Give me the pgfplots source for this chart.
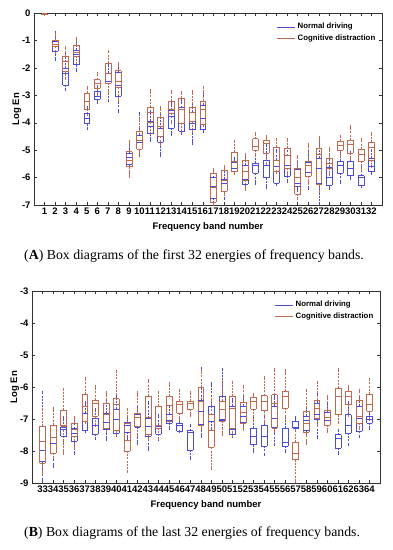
\documentclass[border=0pt]{standalone}
\usepackage{fontspec}
\setmainfont{Liberation Sans}
\newfontfamily\capfont{Liberation Serif}
\usepackage{pgfplots}
\usepackage{pgfplotstable}
\pgfplotsset{compat=1.18}
\definecolor{bluec}{RGB}{75,75,220}
\definecolor{redc}{RGB}{195,105,80}
\definecolor{axc}{RGB}{50,50,50}

\pgfplotstableread{
k lw q1 med q3 uw
1 -0.05 -0.04 -0.03 -0.02 -0.01
2 -1.70 -1.38 -1.15 -1.02 -0.72
3 -2.80 -2.62 -2.20 -2.02 -1.50
4 -2.08 -1.88 -1.50 -1.35 -1.10
5 -4.20 -4.03 -3.83 -3.67 -3.45
6 -3.27 -3.15 -3.03 -2.85 -2.70
7 -3.20 -2.55 -2.50 -2.20 -1.85
8 -3.60 -3.02 -2.62 -2.15 -1.95
9 -5.85 -5.50 -5.25 -5.10 -4.70
10 -5.20 -4.95 -4.70 -4.45 -3.67
11 -4.66 -4.40 -4.14 -3.95 -3.60
12 -5.20 -4.72 -4.50 -4.20 -3.70
13 -4.44 -4.20 -3.77 -3.55 -3.30
14 -4.38 -4.30 -4.00 -3.45 -3.20
15 -4.74 -4.25 -4.01 -3.60 -3.30
16 -4.32 -4.22 -3.85 -3.35 -2.95
17 -7.00 -6.75 -6.30 -6.00 -5.80
18 -6.76 -6.50 -6.20 -6.05 -5.75
19 -5.84 -5.78 -5.65 -5.45 -5.30
20 -6.40 -6.25 -6.05 -5.55 -5.30
21 -6.20 -5.85 -5.55 -5.48 -5.15
22 -6.37 -6.00 -5.55 -5.35 -4.80
23 -6.25 -6.20 -5.60 -5.35 -5.00
24 -6.15 -5.95 -5.55 -5.20 -4.90
25 -6.45 -6.30 -6.20 -5.70 -5.40
26 -6.39 -5.95 -5.80 -5.45 -5.10
27 -6.94 -6.20 -5.65 -5.30 -4.70
28 -6.39 -6.27 -6.00 -5.63 -5.20
29 -6.17 -5.84 -5.55 -5.41 -5.05
30 -6.02 -5.93 -5.65 -5.41 -5.10
31 -6.33 -6.29 -6.00 -5.93 -5.55
32 -5.84 -5.78 -5.60 -5.30 -5.00
}\blueA

\pgfplotstableread{
k lw q1 med q3 uw
1 -0.05 -0.04 -0.03 -0.02 -0.01
2 -1.45 -1.22 -1.12 -0.98 -0.80
3 -2.40 -2.12 -1.76 -1.58 -1.25
4 -1.85 -1.57 -1.42 -1.17 -0.93
5 -3.70 -3.49 -3.22 -2.91 -2.73
6 -2.95 -2.73 -2.55 -2.43 -2.22
7 -2.90 -2.55 -2.20 -1.82 -1.40
8 -3.20 -2.71 -2.50 -2.10 -1.85
9 -5.95 -5.60 -5.35 -5.05 -4.70
10 -5.10 -4.96 -4.62 -4.32 -3.90
11 -4.40 -3.99 -3.60 -3.43 -2.83
12 -4.80 -4.50 -4.13 -3.80 -3.46
13 -4.00 -3.65 -3.50 -3.20 -2.85
14 -4.30 -4.00 -3.52 -3.10 -2.89
15 -4.30 -3.95 -3.60 -3.44 -2.85
16 -4.10 -4.05 -3.52 -3.22 -2.73
17 -7.00 -6.90 -6.35 -5.85 -5.70
18 -6.60 -6.50 -6.10 -5.72 -5.60
19 -5.84 -5.78 -5.42 -5.08 -4.68
20 -6.43 -6.09 -5.75 -5.35 -5.15
21 -5.20 -4.99 -4.85 -4.58 -4.41
22 -5.50 -5.10 -4.74 -4.62 -4.52
23 -5.80 -5.78 -5.35 -4.90 -4.62
24 -5.90 -5.66 -5.20 -4.93 -4.62
25 -6.76 -6.60 -6.00 -5.66 -5.25
26 -6.20 -5.94 -5.56 -5.39 -4.78
27 -6.50 -6.24 -5.15 -4.93 -4.56
28 -5.90 -5.66 -5.48 -5.29 -4.93
29 -5.20 -4.99 -4.83 -4.68 -4.50
30 -5.30 -5.11 -4.80 -4.62 -4.15
31 -5.70 -5.39 -5.15 -4.95 -4.60
32 -5.60 -5.35 -4.90 -4.71 -4.40
}\redA

\pgfplotstableread{
k lw q1 med q3 uw
33 -8.93 -8.33 -7.98 -7.23 -6.17
34 -8.48 -8.06 -7.75 -7.18 -6.66
35 -7.75 -7.54 -7.33 -7.25 -6.95
36 -8.06 -7.70 -7.45 -7.30 -7.00
37 -7.38 -7.36 -7.07 -6.81 -6.50
38 -7.60 -7.48 -7.20 -6.97 -6.70
39 -7.65 -7.33 -7.10 -6.81 -6.40
40 -7.50 -7.45 -7.00 -6.70 -6.30
41 -7.60 -7.40 -7.20 -7.10 -7.00
42 -7.75 -7.25 -7.22 -6.85 -6.60
43 -7.96 -7.54 -7.21 -6.97 -6.50
44 -7.65 -7.46 -7.22 -7.18 -6.90
45 -7.28 -7.12 -7.05 -6.84 -6.60
46 -7.39 -7.38 -7.18 -7.13 -7.00
47 -8.22 -7.96 -7.40 -7.36 -7.20
48 -7.54 -7.15 -6.76 -6.40 -5.41
49 -7.30 -7.07 -6.86 -6.60 -5.90
50 -7.30 -7.05 -7.00 -6.29 -5.46
51 -7.54 -7.49 -7.33 -6.60 -6.40
52 -7.30 -7.10 -6.90 -6.60 -6.30
53 -8.01 -7.80 -7.54 -7.28 -7.00
54 -8.11 -7.85 -7.54 -7.18 -6.90
55 -7.80 -7.25 -6.97 -6.60 -6.30
56 -8.01 -7.85 -7.72 -7.28 -7.00
57 -7.30 -7.28 -7.27 -7.07 -6.97
58 -7.50 -7.35 -7.05 -6.92 -6.70
59 -7.59 -7.00 -6.84 -6.50 -6.20
60 -7.39 -7.20 -7.05 -6.80 -6.50
61 -8.06 -7.91 -7.60 -7.49 -7.35
62 -7.80 -7.44 -7.18 -6.86 -6.50
63 -7.54 -7.39 -6.97 -6.60 -6.30
64 -7.28 -7.13 -7.00 -6.92 -6.80
}\blueB

\pgfplotstableread{
k lw q1 med q3 uw
33 -8.70 -8.38 -7.70 -7.23 -6.70
34 -8.20 -8.06 -7.57 -7.18 -6.66
35 -8.06 -7.23 -7.20 -6.71 -6.08
36 -7.90 -7.54 -7.33 -7.13 -6.95
37 -7.10 -7.07 -6.60 -6.22 -5.74
38 -7.20 -6.92 -6.50 -6.40 -6.00
39 -7.40 -7.28 -6.85 -6.50 -6.19
40 -7.49 -7.36 -6.55 -6.36 -5.51
41 -8.64 -8.00 -7.65 -7.13 -6.71
42 -7.50 -7.23 -6.95 -6.81 -6.19
43 -7.60 -7.49 -6.95 -6.29 -5.80
44 -7.60 -7.28 -7.20 -6.60 -6.16
45 -7.10 -7.07 -6.57 -6.29 -5.88
46 -7.00 -6.81 -6.55 -6.45 -6.11
47 -6.90 -6.68 -6.50 -6.45 -6.19
48 -7.30 -7.18 -6.45 -6.00 -5.50
49 -8.53 -7.89 -7.36 -6.86 -6.40
50 -7.49 -7.07 -6.68 -6.45 -5.80
51 -7.50 -7.28 -6.65 -6.29 -5.85
52 -7.33 -7.13 -6.80 -6.47 -6.00
53 -7.05 -6.68 -6.45 -6.32 -6.24
54 -7.10 -6.74 -6.45 -6.27 -5.70
55 -7.40 -7.28 -6.50 -6.24 -5.46
56 -7.00 -6.66 -6.29 -6.14 -5.50
57 -8.95 -8.27 -8.06 -7.72 -7.30
58 -7.75 -7.41 -7.12 -6.76 -6.11
59 -7.20 -6.97 -6.66 -6.40 -5.85
60 -7.39 -7.18 -6.95 -6.71 -6.29
61 -7.10 -6.86 -6.29 -6.03 -5.46
62 -6.90 -6.55 -6.30 -6.14 -6.00
63 -7.30 -7.13 -6.92 -6.40 -6.11
64 -7.00 -6.76 -6.55 -6.22 -5.77
}\redB

% box-and-whisker series: #1 table, #2 colour
\newcommand{\boxseries}[2]{%
  \addplot[draw=none, forget plot, error bars/.cd, y dir=plus, y explicit,
    error mark=-, error mark options={solid, draw=#2, line width=0.4pt, mark size=1.6pt},
    error bar style={draw=#2, line width=0.4pt, dash pattern=on 2pt off 1.2pt}]
    table[x=k, y=q3, y error expr=\thisrow{uw}-\thisrow{q3}] {#1};
  \addplot[draw=none, forget plot, error bars/.cd, y dir=minus, y explicit,
    error mark=-, error mark options={solid, draw=#2, line width=0.4pt, mark size=1.6pt},
    error bar style={draw=#2, line width=0.4pt, dash pattern=on 2pt off 1.2pt}]
    table[x=k, y=q1, y error expr=\thisrow{q1}-\thisrow{lw}] {#1};
  \addplot[draw=none, forget plot, error bars/.cd, y dir=plus, y explicit, error mark=none,
    error bar style={draw=#2, solid, line width=0.4pt}]
    table[x expr=\thisrow{k}-0.28, y=q1, y error expr=\thisrow{q3}-\thisrow{q1}] {#1};
  \addplot[draw=none, forget plot, error bars/.cd, y dir=plus, y explicit, error mark=none,
    error bar style={draw=#2, solid, line width=0.4pt}]
    table[x expr=\thisrow{k}+0.28, y=q1, y error expr=\thisrow{q3}-\thisrow{q1}] {#1};
  \addplot[only marks, forget plot, mark=-, mark size=2.95pt,
    mark options={solid, draw=#2, line width=0.4pt}] table[x=k, y=q1] {#1};
  \addplot[only marks, forget plot, mark=-, mark size=2.95pt,
    mark options={solid, draw=#2, line width=0.4pt}] table[x=k, y=q3] {#1};
  \addplot[only marks, forget plot, mark=-, mark size=2.95pt,
    mark options={solid, draw=#2, line width=0.4pt}] table[x=k, y=med] {#1};
}

\pgfplotsset{
  bxstyle/.style={
    scale only axis, width=348pt, height=192pt,
    axis line style={axc, line width=0.5pt},
    major tick style={axc, line width=0.4pt},
    major tick length=3pt,
    tick align=inside,
    /pgf/number format/assume math mode=true,
    tick label style={font=\bfseries\fontsize{9.5}{10}\selectfont},
    xticklabel style={inner sep=1pt, yshift=-2pt},
    label style={font=\bfseries\fontsize{9.5}{11}\selectfont},
    xlabel style={yshift=-3pt},
    ylabel style={yshift=-6pt},
    xlabel={Frequency band number},
    ylabel={Log En},
    legend image code/.code={\draw[##1, line width=0.6pt] (0pt,0pt) -- (18pt,0pt);},
    legend style={draw=none, fill=none, inner sep=0pt, row sep=0pt,
      font=\bfseries\fontsize{7.8}{9}\selectfont, anchor=north west},
    legend cell align=left,
  },
}

\begin{document}
\begin{tikzpicture}
\path[use as bounding box] (0pt,0pt) rectangle (392pt,-550pt);

\begin{axis}[bxstyle, at={(34pt,-205pt)}, anchor=south west,
  xmin=0, xmax=33, ymin=-7, ymax=0,
  xtick={1,...,32}, ytick={-7,...,0},
  legend style={at={(0.698,0.958)}}]
\boxseries{\blueA}{bluec}
\boxseries{\redA}{redc}
\addlegendimage{bluec}
\addlegendentry{Normal driving}
\addlegendimage{redc}
\addlegendentry{Cognitive distraction}
\end{axis}

\node[anchor=west, inner sep=0pt, font=\capfont\fontsize{13.8}{16}\selectfont] at (24pt,-256pt)
  {(\textbf{A}) Box diagrams of the first 32 energies of frequency bands.};

\begin{axis}[bxstyle, at={(32pt,-483pt)}, anchor=south west,
  xmin=32, xmax=65, ymin=-9, ymax=-3,
  xtick={33,...,64}, ytick={-9,...,-3},
  legend style={at={(0.698,0.958)}}]
\boxseries{\blueB}{bluec}
\boxseries{\redB}{redc}
\addlegendimage{bluec}
\addlegendentry{Normal driving}
\addlegendimage{redc}
\addlegendentry{Cognitive distraction}
\end{axis}

\node[anchor=west, inner sep=0pt, font=\capfont\fontsize{13.8}{16}\selectfont] at (24pt,-533pt)
  {(\textbf{B}) Box diagrams of the last 32 energies of frequency bands.};
\end{tikzpicture}
\end{document}
